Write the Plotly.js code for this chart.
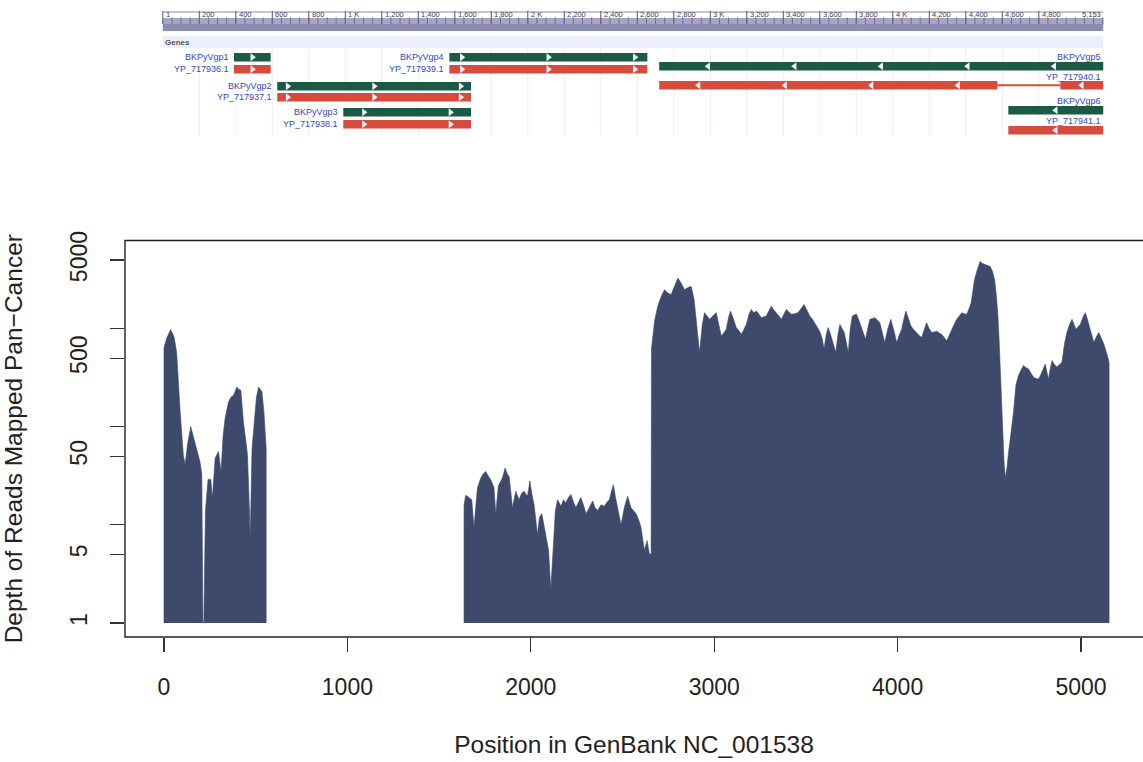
<!DOCTYPE html>
<html><head><meta charset="utf-8">
<script src="https://cdn.plot.ly/plotly-3.0.1.min.js"></script>
<style>html,body{margin:0;padding:0;background:#fff}#chart{width:1143px;height:762px}</style>
</head><body><div id="chart"></div>
<script>
// ---------------- coverage data ----------------
// null separates blocks without coverage
const position = [
  0,15,36,55,69,87,105,115,130,146,162,179,195,206,212,217,226,240,255,264,279,297,311,322,333,351,365,379,397,408,419,433,445,455,463,470,480,492,504,516,534,545,552,557,
  null,
  1636,1645,1654,1678,1690,1709,1727,1740,1754,1770,1781,1799,1809,1823,1845,1860,1872,1882,1900,1918,1936,1950,1963,1982,1995,2007,2018,2036,2048,2060,2078,2097,2109,2122,2134,2146,2164,2178,2191,2205,2219,2233,2246,2260,2273,2287,2301,2319,2337,2350,2364,2383,2401,2415,2428,2440,2450,2462,2474,2492,2510,2528,2546,2560,2574,2590,2601,2619,2634,2646,2652,
  2656,2658,2675,2692,2710,2729,2747,2765,2785,2802,2820,2838,2855,2874,2890,2902,2920,2935,2947,2960,2975,2993,3011,3025,3038,3052,3066,3078,3089,3105,3120,3135,3148,3162,3175,3190,3202,3216,3230,3244,3257,3270,3284,3297,3311,3325,3339,3352,3366,3380,3393,3407,3421,3439,3457,3474,3490,3505,3521,3535,3548,3562,3575,3588,3599,3610,3621,3632,3643,3653,3663,3674,3685,3697,3709,3720,3731,3742,3753,3765,3776,3790,3803,3814,3825,3837,3849,3863,3876,3890,3903,3917,3930,3947,3963,3980,3995,4008,4022,4034,4045,4060,4073,4087,4100,4115,4131,4145,4158,4172,4186,4200,4213,4227,4240,4254,4268,4282,4295,4308,4322,4336,4350,4363,4377,4390,4401,4410,4419,4435,4450,4463,4477,4491,4505,4518,4529,4538,4546,4553,4559,4566,4572,4580,4587,4596,4605,4614,4623,4632,4645,4659,4673,4687,4700,4714,4728,4741,4755,4769,4778,4787,4796,4805,4814,4823,4832,4842,4855,4869,4883,4896,4910,4923,4937,4951,4962,4973,4985,4996,5010,5023,5032,5042,5056,5070,5083,5097,5110,5124,5135,5142,5150,5153
];
const depth = [
  640,800,980,820,570,152,52,41,70,100,75,58,45,33,1,1,14,29,29,19,48,56,35,80,121,178,200,209,254,240,235,112,75,52,20,7.4,60,121,200,254,227,140,66,60,
  null,
  16,20,19.6,18,9.4,23.8,30,33,35,31,29,24,13,25,30,38,33,31,15,22,18,21,22,19.6,28,20,16,8,12,13,8.7,5.5,2.2,5.1,14,18,15.5,18,16.8,19,20.4,17,15,17,19,16,13,15,17.5,15,14,16,15.5,17,18,22,25.7,19,15,10,15,19.6,15,14,13,11,9.4,5.5,6.9,5.1,5,
  5,620,1200,1690,2100,2495,2300,2220,2800,3275,2900,2495,2600,2700,2000,1242,572,1100,1452,1350,1242,1350,1452,1100,844,900,984,1300,1507,1250,1024,950,875,980,1100,1400,1567,1450,1507,1400,1290,1320,1340,1500,1690,1550,1452,1350,1242,1400,1567,1480,1400,1420,1452,1600,1760,1550,1340,1250,1150,1050,940,800,620,850,1024,900,780,650,572,850,1100,1000,910,720,572,1000,1340,1380,1400,1200,1024,900,780,1000,1242,1270,1290,1220,1150,900,720,1000,1242,950,720,850,984,1250,1507,1250,1060,980,910,860,810,980,1150,1000,910,925,940,900,875,810,750,860,984,1100,1242,1350,1452,1420,1400,1600,1830,2400,3150,4000,4830,4600,4470,4400,4300,3800,3150,2200,1452,800,388,180,82,45,30,38,55,76,105,141,264,333,380,420,400,388,350,320,310,307,330,360,400,435,360,307,390,472,430,405,430,455,700,910,1100,1242,1100,984,1050,1100,1300,1452,1300,1100,900,720,820,910,800,700,600,550,480,450
];

// ---------------- ticks ----------------
const yTickVals = [1,5,10,50,100,500,1000,5000];
const yTickText = ['1','5','','50','','500','','5000'];
const xTickVals = [0,1000,2000,3000,4000,5000];

// ---------------- gene track data ----------------
const genomeLength = 5153;
const rulerTickPos = [0,200,400,600,800,1000,1200,1400,1600,1800,2000,2200,2400,2600,2800,3000,3200,3400,3600,3800,4000,4200,4400,4600,4800];
const rulerTickText = ['1','200','400','600','800','1 K','1,200','1,400','1,600','1,800','2 K','2,200','2,400','2,600','2,800','3 K','3,200','3,400','3,600','3,800','4 K','4,200','4,400','4,600','4,800'];
const geneName = ['BKPyVgp1','BKPyVgp2','BKPyVgp3','BKPyVgp4','BKPyVgp5','BKPyVgp6'];
const proteinId = ['YP_717936.1','YP_717937.1','YP_717938.1','YP_717939.1','YP_717940.1','YP_717941.1'];
const geneStart = [390,627,989,1570,2720,4633];
const geneEnd = [591,1689,1689,2655,5153,5153];
const geneStrand = [1,1,1,1,-1,-1];
const cdsSegments = [[[390,591]],[[627,1689]],[[989,1689]],[[1570,2655]],[[2720,4573],[4918,5153]],[[4633,5153]]];

// ---------------- layout of the track (pixel rows, not data) ----------------
const greenTop = [53,82,108,53,62,106];
const redTop = [65,93,120,65,81,126];
const labelAbove = [false,false,false,false,true,true];
const barH = 8.5;
const arrowSpacing = 474;

const FONT = 'Liberation Sans, Arial, Helvetica, sans-serif';
const FILL = '#3d4a6c';
const GREEN = '#1d5a45';
const RED = '#d64b3b';
const LBLUE = '#3546c8';

const traces = [];
let bx = [], by = [];
function flush(){
  if (bx.length){
    traces.push({type:'scatter', mode:'lines', x:[bx[0]].concat(bx,[bx[bx.length-1]]),
      y:[1].concat(by,[1]), fill:'toself', fillcolor:FILL,
      line:{color:FILL, width:0.6}, hoverinfo:'skip', showlegend:false, xaxis:'x', yaxis:'y'});
  }
  bx = []; by = [];
}
for (let i=0;i<position.length;i++){
  if (position[i]===null || depth[i]===null || depth[i]===undefined){ flush(); continue; }
  bx.push(position[i]); by.push(depth[i]);
}
flush();

const shapes = [], annotations = [];
shapes.push({type:'rect', xref:'x domain', yref:'y domain', x0:0, x1:1.01, y0:0, y1:1, line:{color:'#222', width:1.4}, fillcolor:'rgba(0,0,0,0)'});

function tShape(o){ o.xref='x2'; o.yref='y2'; o.layer='below'; shapes.push(o); }
// ruler
tShape({type:'line', x0:0, x1:genomeLength, y0:12, y1:12, line:{color:'#8a8aa8', width:1}});
tShape({type:'rect', x0:0, x1:genomeLength, y0:18, y1:31, line:{width:0}, fillcolor:'#8c8cb0'});
tShape({type:'rect', x0:0, x1:genomeLength, y0:18, y1:24, line:{width:0}, fillcolor:'#a6a6c4'});
tShape({type:'rect', x0:0, x1:genomeLength, y0:36, y1:48, line:{width:0}, fillcolor:'#eceefa'});
rulerTickPos.forEach((p,i)=>{
  tShape({type:'line', x0:p, x1:p, y0:11, y1:24, line:{color:'#555577', width:1}});
  if (i>0) tShape({type:'line', x0:p, x1:p, y0:48, y1:136, line:{color:'#eceef8', width:1}});
  annotations.push({xref:'x2', yref:'y2', x:p, y:14.5, text:rulerTickText[i], showarrow:false, xanchor:'left', yanchor:'middle', xshift:1, font:{family:FONT, size:7.5, color:'#404060'}});
});
annotations.push({xref:'x2', yref:'y2', x:genomeLength, y:14.5, text:'5,153', showarrow:false, xanchor:'right', yanchor:'middle', font:{family:FONT, size:7.5, color:'#404060'}});
annotations.push({xref:'x2', yref:'y2', x:0, y:42, text:'<b>Genes</b>', showarrow:false, xanchor:'left', yanchor:'middle', font:{family:FONT, size:8, color:'#555'}});
const minorX = [];
for (let p=50; p<genomeLength; p+=50) minorX.push(p);
traces.push({type:'scatter', mode:'markers', x:minorX, y:minorX.map(()=>21), xaxis:'x2', yaxis:'y2',
  marker:{symbol:'line-ns', size:5, line:{color:'#6e6e95', width:1}}, hoverinfo:'skip', showlegend:false});

// genes
const arrowX = [], arrowY = [], arrowSym = [];
function addArrows(s, e, y, strand){
  const n = Math.max(1, Math.round((e - s) / arrowSpacing + 0.3));
  const c = (s + e) / 2;
  for (let k=0;k<n;k++){
    arrowX.push(c + (k - (n-1)/2) * arrowSpacing);
    arrowY.push(y);
    arrowSym.push(strand > 0 ? 'triangle-right' : 'triangle-left');
  }
}
geneName.forEach((g,i)=>{
  const gy0 = greenTop[i], ry0 = redTop[i];
  tShape({type:'rect', x0:geneStart[i], x1:geneEnd[i], y0:gy0, y1:gy0+barH, line:{width:0}, fillcolor:GREEN});
  addArrows(geneStart[i], geneEnd[i], gy0+barH/2, geneStrand[i]);
  const segs = cdsSegments[i];
  segs.forEach(sg=>{
    tShape({type:'rect', x0:sg[0], x1:sg[1], y0:ry0, y1:ry0+barH, line:{width:0}, fillcolor:RED});
    addArrows(sg[0], sg[1], ry0+barH/2, geneStrand[i]);
  });
  for (let k=1;k<segs.length;k++){
    tShape({type:'line', x0:segs[k-1][1], x1:segs[k][0], y0:ry0+barH/2, y1:ry0+barH/2, line:{color:RED, width:2}});
  }
  if (labelAbove[i]){
    annotations.push({xref:'x2', yref:'y2', x:geneEnd[i], y:gy0-5, text:g, showarrow:false, xanchor:'right', yanchor:'middle', font:{family:FONT, size:9, color:LBLUE}});
    annotations.push({xref:'x2', yref:'y2', x:geneEnd[i], y:(gy0+barH+ry0)/2+1, text:proteinId[i], showarrow:false, xanchor:'right', yanchor:'middle', font:{family:FONT, size:9, color:LBLUE}});
  } else {
    annotations.push({xref:'x2', yref:'y2', x:geneStart[i], y:gy0+barH/2, text:g, showarrow:false, xanchor:'right', yanchor:'middle', xshift:-3, font:{family:FONT, size:9, color:LBLUE}});
    annotations.push({xref:'x2', yref:'y2', x:geneStart[i], y:ry0+barH/2, text:proteinId[i], showarrow:false, xanchor:'right', yanchor:'middle', xshift:-3, font:{family:FONT, size:9, color:LBLUE}});
  }
});
traces.push({type:'scatter', mode:'markers', x:arrowX, y:arrowY, xaxis:'x2', yaxis:'y2',
  marker:{symbol:arrowSym, size:7, color:'#f2f2ff', line:{width:0}}, hoverinfo:'skip', showlegend:false});

const layout = {
  width:1143, height:762,
  margin:{l:125, r:0, t:0, b:125},
  paper_bgcolor:'#fff', plot_bgcolor:'rgba(0,0,0,0)',
  showlegend:false,
  font:{family:FONT, size:23, color:'#222'},
  xaxis:{domain:[0,1], anchor:'y', range:[-212.7, 5338], tickvals:xTickVals, ticks:'outside', ticklen:14, tickwidth:1.2, tickcolor:'#333',
    showline:false, showgrid:false, zeroline:false, tickfont:{family:FONT, size:23, color:'#222'}, ticklabelstandoff:15,
    title:{text:'Position in GenBank NC_001538', font:{family:FONT, size:24.5, color:'#222'}, standoff:37}},
  yaxis:{domain:[0,0.6225], anchor:'x', type:'log', range:[-0.1426, 3.898], tickvals:yTickVals, ticktext:yTickText, tickangle:-90,
    ticks:'outside', ticklen:14, tickwidth:1.2, tickcolor:'#333', showline:false, showgrid:false, zeroline:false,
    tickfont:{family:FONT, size:23, color:'#222'}, ticklabelstandoff:14,
    title:{text:'Depth of Reads Mapped Pan\u2212Cancer', font:{family:FONT, size:24.5, color:'#222'}, standoff:48}},
  xaxis2:{domain:[0,1], anchor:'y2', range:[-207.1, 5370.9], visible:false, fixedrange:true},
  yaxis2:{domain:[0.78022,1], anchor:'x2', range:[140,0], visible:false, fixedrange:true},
  shapes:shapes, annotations:annotations
};
Plotly.newPlot('chart', traces, layout, {displayModeBar:false, staticPlot:true});
</script>
</body></html>
